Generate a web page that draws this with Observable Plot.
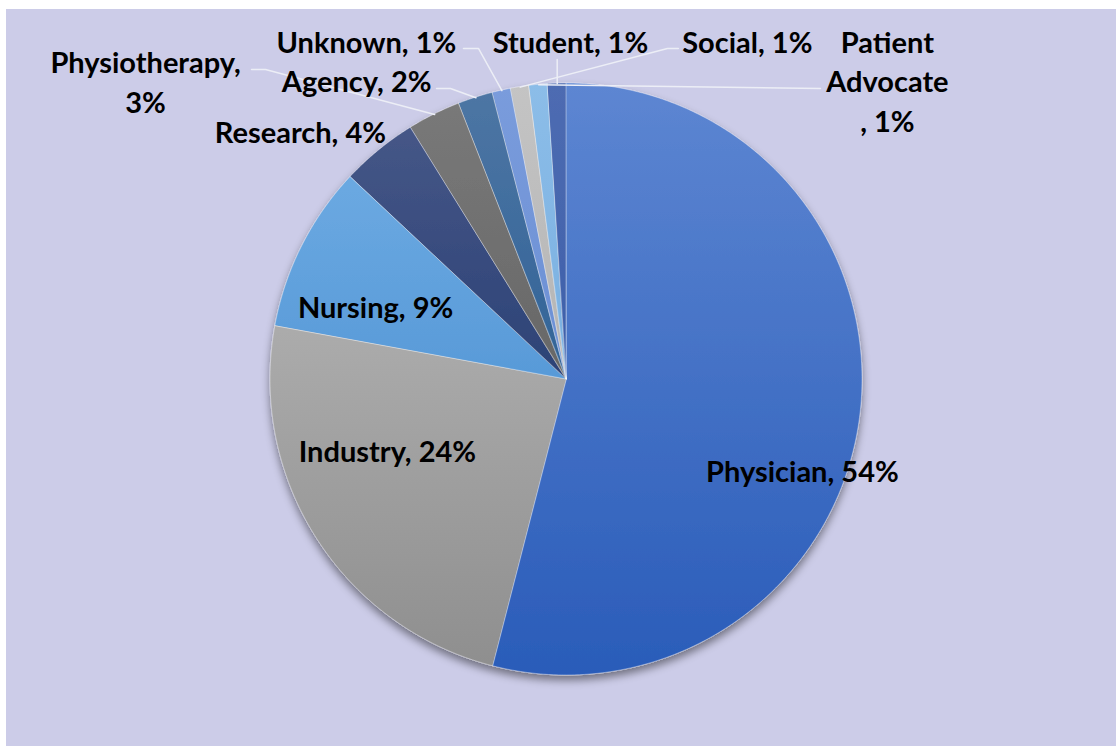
<!DOCTYPE html>
<html><head><meta charset="utf-8">
<script src="https://cdn.jsdelivr.net/npm/d3@7"></script>
<script src="https://cdn.jsdelivr.net/npm/@observablehq/plot@0.6"></script>
<style>
html,body{margin:0;padding:0;background:#fff;width:1116px;height:746px;overflow:hidden}
#bg{position:absolute;left:6px;top:9px;right:0;bottom:0;background:#CCCCE8}
#chart{position:absolute;left:0;top:0}
</style></head><body>
<div id="bg"></div>
<svg width="0" height="0" style="position:absolute"><defs id="defs"></defs></svg>
<div id="chart"></div>
<script>
// ---- data ----
const categories = ["Physician","Industry","Nursing","Research","Physiotherapy","Agency","Unknown","Patient Advocate","Student","Social"];
const values = [54, 23.9, 9.1, 4.2, 2.9, 1.9, 1, 1, 1, 1];
const percentLabels = ["54%","24%","9%","4%","3%","2%","1%","1%","1%","1%"];

// ---- styles ----
const topColors    = ["#5D86D2","#C0C0C0","#74B0E6","#4A5A8A","#7A7A7A","#4E76A4","#7A9CDC","#C4C4C4","#8CBDE8","#4E6CB2"];
const bottomColors = ["#2A5CB9","#8E8E8E","#3C84CA","#0E2A62","#545454","#14508A","#5C82CC","#A4A4A4","#66A2DA","#2C52A2"];

// ---- layout (pie units: center 0,0 radius 1, y up) ----
const cx = 566, cy = 379, R = 296;
const labelLayout = {
  "Physician":        {pos:[0.797,-0.304], wrap:null},
  "Industry":         {pos:[-0.605,-0.236], wrap:null},
  "Nursing":          {pos:[-0.645,0.25], wrap:null},
  "Research":         {pos:[-0.899,0.841], wrap:null},
  "Physiotherapy":    {pos:[-1.422,1.01], wrap:"two"},
  "Agency":           {pos:[-0.709,1.0135], wrap:null},
  "Unknown":          {pos:[-0.676,1.145], wrap:null},
  "Patient Advocate": {pos:[1.084,1.0135], wrap:"three"},
  "Student":          {pos:[0.0135,1.145], wrap:null},
  "Social":           {pos:[0.611,1.145], wrap:null}
};
// leader lines: label-side points (pie units); final point is on the target slice arc
const leaderLayout = {
  "Physiotherapy":    {pts:[[-1.064,1.047],[-1.017,1.047]]},
  "Agency":           {pts:[[-0.439,0.983],[-0.392,0.983]]},
  "Unknown":          {pts:[[-0.348,1.118],[-0.297,1.118]]},
  "Patient Advocate": {pts:[[0.858,0.983]], target:"Student"},
  "Student":          {pts:[["arcx:Social",1.081]], target:"Social"},
  "Social":           {pts:[[0.378,1.118],[0.341,1.118]], target:"Patient Advocate"}
};

// ---- pie geometry ----
const arcs = d3.pie().sort(null).value(d => d)(values);
const sliceIndex = Object.fromEntries(categories.map((c,i)=>[c,i]));
const midPoint = i => { const a = (arcs[i].startAngle + arcs[i].endAngle)/2; return [Math.sin(a), Math.cos(a)]; };

const slicePoints = [];
arcs.forEach((a, i) => {
  const n = Math.max(4, Math.ceil((a.endAngle - a.startAngle) / (Math.PI/360)));
  for (let k = 0; k <= n; k++) {
    const t = a.startAngle + (a.endAngle - a.startAngle) * k / n;
    slicePoints.push({name: categories[i], i, x: Math.sin(t), y: Math.cos(t)});
  }
});

const labelData = categories.map((c, i) => {
  const L = labelLayout[c];
  let text = `${c}, ${percentLabels[i]}`;
  if (L.wrap === "two") text = `${c},\n${percentLabels[i]}`;
  if (L.wrap === "three") text = c.split(" ").join("\n") + `\n, ${percentLabels[i]}`;
  return {name: c, x: L.pos[0], y: L.pos[1], text};
});

const leaderData = [];
for (const [c, L] of Object.entries(leaderLayout)) {
  const target = sliceIndex[L.target ?? c];
  const [mx, my] = midPoint(target);
  for (const p of L.pts) {
    const px = typeof p[0] === "string" ? midPoint(sliceIndex[p[0].split(":")[1]])[0] : p[0];
    leaderData.push({name: c, x: px, y: p[1]});
  }
  leaderData.push({name: c, x: mx, y: my});
}

// ---- gradient defs ----
const defs = d3.select("#defs");
categories.forEach((c, i) => {
  const g = defs.append("linearGradient").attr("id", "grad" + i)
    .attr("gradientUnits", "userSpaceOnUse")
    .attr("x1", 0).attr("x2", 0).attr("y1", cy - R).attr("y2", cy + R);
  g.append("stop").attr("offset", "0%").attr("stop-color", topColors[i]);
  g.append("stop").attr("offset", "100%").attr("stop-color", bottomColors[i]);
});
const f = defs.append("filter").attr("id", "shadow")
  .attr("x", "-10%").attr("y", "-10%").attr("width", "120%").attr("height", "130%");
f.append("feDropShadow").attr("dx", 0).attr("dy", 5).attr("stdDeviation", 4)
  .attr("flood-color", "#000").attr("flood-opacity", 0.45);

// ---- plot ----
const plot = Plot.plot({
  width: 1116, height: 746,
  margin: 0,
  style: {background: "transparent", fontFamily: "Lato, 'Open Sans', sans-serif"},
  x: {domain: [-1, 1], range: [cx - R, cx + R], axis: null},
  y: {domain: [-1, 1], range: [cy + R, cy - R], axis: null},
  color: {type: "identity"},
  marks: [
    Plot.area(slicePoints, {
      x1: "x", y1: "y", x2: 0, y2: 0, z: "name",
      fill: d => `url(#grad${d.i})`,
      stroke: "#FFFFFF", strokeOpacity: 0.45, strokeWidth: 0.8, curve: "linear"
    }),
    Plot.line(leaderData, {x: "x", y: "y", z: "name", stroke: "#ECEEF6", strokeWidth: 1.5, curve: "linear"}),
    Plot.text(labelData, {
      x: "x", y: "y", text: "text", fontSize: 29, fontWeight: "bold",
      fontFamily: "Lato", fill: "#000", textAnchor: "middle", lineAnchor: "middle", lineHeight: 1.36
    })
  ]
});
document.getElementById("chart").appendChild(plot);
const areaG = plot.querySelector('g[aria-label="area"]');
if (areaG) areaG.setAttribute("filter", "url(#shadow)");
</script>
</body></html>
